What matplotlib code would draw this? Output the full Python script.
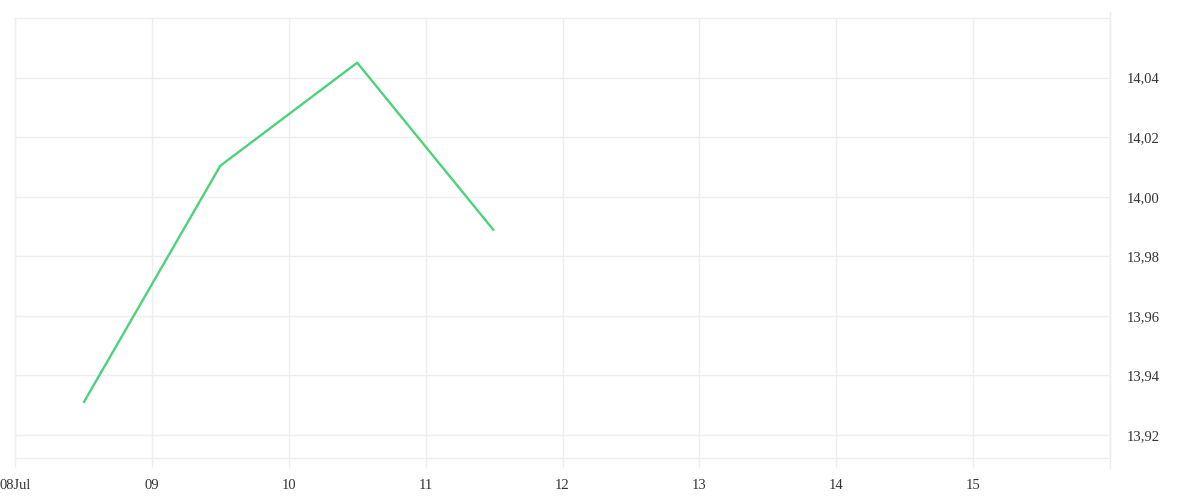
import pandas as pd
import matplotlib
matplotlib.use("Agg")
import matplotlib.pyplot as plt
import matplotlib.transforms as mtransforms
from matplotlib.ticker import FuncFormatter

# data (daily points at midday)
dates = ["2024-07-08 12:00", "2024-07-09 12:00", "2024-07-10 12:00", "2024-07-11 12:00"]
values = [13.9308, 14.0104, 14.0450, 13.9886]

tick_days = ["2024-07-08", "2024-07-09", "2024-07-10", "2024-07-11",
             "2024-07-12", "2024-07-13", "2024-07-14", "2024-07-15"]
tick_labels = ["08Jul", "09", "10", "11", "12", "13", "14", "15"]
y_ticks = [13.92, 13.94, 13.96, 13.98, 14.00, 14.02, 14.04]

LINE_COLOR = "#4cd27a"
GRID_COLOR = "#eeeeee"

plt.rcParams["font.family"] = ["Liberation Serif", "DejaVu Serif"]

fig = plt.figure(figsize=(12, 5), dpi=100)
ax = fig.add_axes([15 / 1200, 1 - 458 / 500, (1110 - 15) / 1200, (458 - 18) / 500])

x = pd.to_datetime(dates)
ax.plot(x, values, color=LINE_COLOR, linewidth=1.7, solid_capstyle="butt")

ax.set_xlim(pd.Timestamp("2024-07-08"), pd.Timestamp("2024-07-16"))
ax.set_ylim(13.9123, 14.0600)

ax.set_xticks(pd.to_datetime(tick_days))
ax.set_xticklabels(tick_labels)
ax.set_yticks(y_ticks)
ax.yaxis.set_major_formatter(FuncFormatter(lambda v, p: f"{v:.2f}".replace(".", ",")))
ax.yaxis.tick_right()

ax.grid(True, color=GRID_COLOR, linewidth=1)
ax.set_axisbelow(True)
for side in ["left", "right", "top", "bottom"]:
    ax.spines[side].set_color(GRID_COLOR)
    ax.spines[side].set_linewidth(1)

ax.tick_params(axis="x", length=7.2, color=GRID_COLOR, width=1, pad=8,
               labelsize=10.5, labelcolor="#333333")
ax.tick_params(axis="y", length=0, pad=12, labelsize=10.5, labelcolor="#333333")

# right border runs slightly past the plot area at top and bottom
trans = mtransforms.blended_transform_factory(ax.transAxes, fig.transFigure)
ax.plot([1, 1], [1 - 12 / 500, 1 - 468 / 500], transform=trans, color=GRID_COLOR,
        linewidth=1, clip_on=False)

fig.savefig("out.png", dpi=100, facecolor="white")
